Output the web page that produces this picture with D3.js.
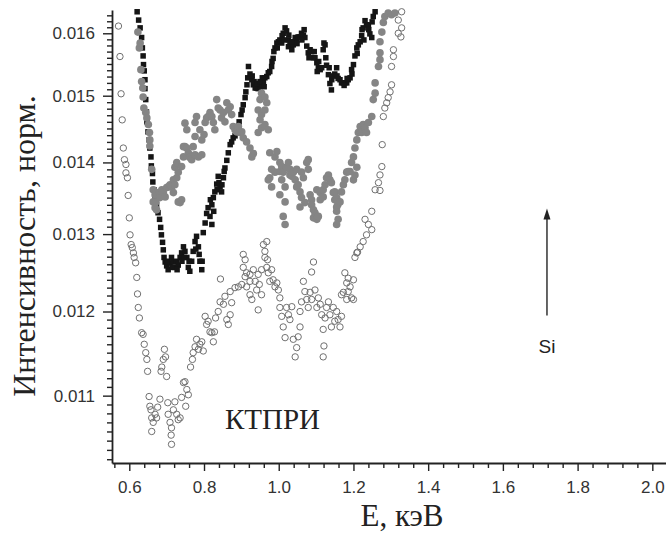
<!DOCTYPE html>
<html><head><meta charset="utf-8">
<script src="https://cdn.jsdelivr.net/npm/d3@7"></script>
<style>html,body{margin:0;padding:0;background:#fff;} svg{display:block;}</style>
</head><body>
<svg id="chart" width="666" height="533"></svg>
<script>
// Tick values
const energyTicks = [0.6, 0.8, 1.0, 1.2, 1.4, 1.6, 1.8, 2.0];
const intensityTicks = [0.011, 0.012, 0.013, 0.014, 0.015, 0.016];

// Axis texts and annotations
const xTitle = "E, кэВ";
const yTitle = "Интенсивность, норм.";
const sampleLabel = "КТПРИ";
const lineLabel = "Si";
const lineEnergy = 1.718;
const lineArrow = [0.01195, 0.01335];   // arrow base and tip, intensity units
const lineLabelLevel = 0.01158;
const sampleLabelPos = [0.856, 0.01063];

// Spectrum 1: filled black squares [E, I]
const squares = [
[0.621,0.01636],[0.625,0.01622],[0.629,0.01609],[0.633,0.01593],[0.635,0.01576],[0.637,0.01563],[0.638,0.01549],[0.640,0.01539],
[0.642,0.01525],[0.642,0.01511],[0.644,0.01494],[0.646,0.01475],[0.647,0.0146],[0.650,0.01445],[0.653,0.01433],[0.655,0.01421],
[0.658,0.01408],[0.659,0.01395],[0.662,0.01384],[0.663,0.01372],[0.666,0.01361],[0.669,0.01351],[0.673,0.0134],[0.677,0.01329],
[0.681,0.0132],[0.684,0.01309],[0.686,0.01299],[0.689,0.01289],[0.691,0.01279],[0.693,0.01269],[0.696,0.01263],[0.700,0.01258],
[0.704,0.01253],[0.709,0.01262],[0.713,0.01269],[0.718,0.01263],[0.722,0.01256],[0.727,0.01264],[0.731,0.01259],[0.736,0.01269],
[0.740,0.01275],[0.745,0.01283],[0.749,0.01277],[0.754,0.01269],[0.758,0.01256],[0.762,0.01251],[0.767,0.01264],[0.771,0.01277],
[0.776,0.0129],[0.780,0.01297],[0.785,0.01283],[0.789,0.01264],[0.794,0.01253],[0.798,0.01302],[0.803,0.01315],[0.807,0.01328],
[0.811,0.01336],[0.816,0.01324],[0.817,0.01347],[0.821,0.01313],[0.825,0.0135],[0.829,0.01358],[0.834,0.01369],[0.838,0.0138],
[0.843,0.01365],[0.847,0.01358],[0.852,0.01378],[0.856,0.01392],[0.861,0.01403],[0.865,0.01414],[0.870,0.01426],[0.874,0.0143],
[0.878,0.01436],[0.883,0.01439],[0.887,0.01445],[0.892,0.01453],[0.894,0.0146],[0.899,0.01471],[0.902,0.01478],[0.905,0.01486],
[0.910,0.01497],[0.912,0.01506],[0.915,0.01517],[0.917,0.01528],[0.919,0.01546],[0.923,0.01534],[0.928,0.01525],[0.932,0.01517],
[0.937,0.01512],[0.941,0.01512],[0.945,0.01511],[0.950,0.01514],[0.954,0.01517],[0.959,0.01522],[0.963,0.01528],[0.968,0.0153],
[0.972,0.01536],[0.976,0.01538],[0.981,0.01546],[0.985,0.01559],[0.990,0.01576],[0.995,0.01584],[0.999,0.01586],[1.003,0.01589],
[1.008,0.01584],[1.012,0.016],[1.017,0.01609],[1.021,0.01604],[1.026,0.01589],[1.026,0.01578],[1.030,0.01583],[1.035,0.01573],
[1.039,0.01581],[1.044,0.01593],[1.048,0.01589],[1.052,0.01594],[1.057,0.01594],[1.061,0.016],[1.066,0.01597],[1.070,0.01593],
[1.075,0.01579],[1.079,0.01568],[1.084,0.01573],[1.088,0.0157],[1.093,0.0156],[1.097,0.0156],[1.102,0.01552],[1.106,0.01544],
[1.111,0.01541],[1.115,0.01544],[1.119,0.01573],[1.121,0.01584],[1.124,0.01581],[1.126,0.0156],[1.128,0.01548],[1.133,0.01533],
[1.137,0.01519],[1.141,0.01509],[1.146,0.01531],[1.150,0.01534],[1.155,0.01544],[1.159,0.01527],[1.164,0.01525],[1.168,0.0152],
[1.173,0.0152],[1.177,0.0152],[1.182,0.0152],[1.186,0.01525],[1.191,0.01528],[1.195,0.01541],[1.200,0.01549],[1.204,0.01563],
[1.209,0.01576],[1.213,0.01581],[1.218,0.01586],[1.222,0.01596],[1.226,0.01609],[1.231,0.01621],[1.235,0.01614],[1.240,0.01614],
[1.244,0.01599],[1.249,0.01593],[1.253,0.01628],[1.258,0.01636],
[0.701,0.01264],[0.714,0.01256],[0.728,0.01253],[0.741,0.01264],[0.747,0.01269],[0.760,0.01264],[0.778,0.0128],[0.787,0.01273],
[0.795,0.01264],[0.821,0.0134],[0.826,0.01331],[0.835,0.01361],[0.840,0.01371],[0.848,0.01368],[0.854,0.01387],
[0.929,0.01531],[0.934,0.01522],[0.942,0.01519],[0.950,0.01522],[0.956,0.01528],[0.961,0.01514],[0.982,0.01554],[0.987,0.0157],
[0.996,0.01576],[1.009,0.01596],[1.014,0.01589],[1.027,0.01597],[1.036,0.01586],[1.049,0.01583],[1.062,0.01589],[1.068,0.01606],
[1.081,0.0156],[1.095,0.0157],[1.103,0.01538],[1.107,0.01554],[1.135,0.01544],[1.142,0.01525],[1.156,0.01531],[1.175,0.01516],
[1.183,0.01527],[1.196,0.01534],[1.210,0.01567],[1.223,0.01606],[1.228,0.01589],[1.241,0.01606],[1.250,0.01619]
];

// Spectrum 2: filled grey circles [E, I]
const dots = [
[0.623,0.01602],[0.627,0.01576],[0.629,0.01584],[0.631,0.01541],[0.633,0.01522],[0.636,0.01512],[0.637,0.01498],[0.639,0.01481],
[0.644,0.01474],[0.647,0.01466],[0.651,0.01456],[0.654,0.01444],[0.655,0.01433],[0.655,0.01424],[0.660,0.0139],[0.664,0.01361],
[0.664,0.01344],[0.669,0.01354],[0.669,0.01336],[0.671,0.01344],[0.673,0.01333],[0.673,0.01357],[0.680,0.01357],[0.682,0.0135],
[0.687,0.01361],[0.691,0.01357],[0.696,0.01351],[0.700,0.01364],[0.704,0.01365],[0.709,0.01368],[0.713,0.01365],[0.718,0.01357],
[0.718,0.01375],[0.722,0.01368],[0.722,0.01393],[0.727,0.014],[0.727,0.01378],[0.731,0.01386],[0.731,0.01344],[0.736,0.01343],
[0.740,0.01347],[0.740,0.01394],[0.745,0.01408],[0.745,0.01423],[0.749,0.01458],[0.754,0.01448],[0.749,0.01423],[0.754,0.01421],
[0.758,0.01414],[0.762,0.01407],[0.767,0.01404],[0.771,0.01423],[0.776,0.01438],[0.776,0.01411],[0.776,0.01459],[0.780,0.01468],
[0.785,0.01408],[0.789,0.01448],[0.794,0.01433],[0.794,0.01411],[0.800,0.01441],[0.803,0.01459],[0.807,0.01466],[0.811,0.01468],
[0.816,0.01474],[0.821,0.01468],[0.825,0.01459],[0.829,0.01448],[0.834,0.01494],[0.838,0.01481],[0.843,0.01478],[0.847,0.01466],
[0.852,0.01474],[0.856,0.0146],[0.861,0.01489],[0.865,0.01478],[0.870,0.01483],[0.874,0.01471],[0.878,0.01453],[0.883,0.01448],
[0.887,0.01445],[0.892,0.01453],[0.896,0.01444],[0.901,0.01445],[0.905,0.01436],[0.914,0.0143],[0.923,0.01421],[0.932,0.01413],
[0.928,0.01408],[0.945,0.01478],[0.945,0.01444],[0.950,0.01494],[0.950,0.01463],[0.954,0.01504],[0.954,0.01471],[0.954,0.01451],
[0.963,0.01498],[0.963,0.01478],[0.963,0.01456],[0.968,0.01489],[0.972,0.01448],[0.972,0.01375],[0.976,0.01414],[0.976,0.01378],
[0.981,0.0139],[0.981,0.01365],[0.990,0.01408],[0.990,0.01386],[0.995,0.01416],[1.003,0.014],[1.003,0.01387],[1.003,0.01354],
[1.008,0.01394],[1.008,0.01375],[1.012,0.01386],[1.012,0.01324],[1.017,0.01365],[1.017,0.01344],[1.017,0.01313],[1.021,0.01393],
[1.026,0.014],[1.030,0.0139],[1.030,0.01382],[1.035,0.0138],[1.039,0.01386],[1.044,0.01375],[1.048,0.0139],[1.048,0.01365],
[1.052,0.01368],[1.057,0.01358],[1.057,0.01337],[1.061,0.01386],[1.061,0.0135],[1.066,0.01378],[1.070,0.01343],[1.075,0.014],
[1.079,0.01404],[1.079,0.0139],[1.084,0.01354],[1.088,0.01347],[1.088,0.0134],[1.093,0.01333],[1.093,0.01322],[1.097,0.01329],
[1.102,0.01361],[1.102,0.0132],[1.106,0.01324],[1.111,0.01357],[1.111,0.01347],[1.119,0.01361],[1.119,0.01351],[1.124,0.01368],
[1.128,0.01378],[1.133,0.01382],[1.137,0.01375],[1.141,0.01371],[1.146,0.01357],[1.150,0.01358],[1.150,0.01347],[1.155,0.0135],
[1.155,0.01337],[1.155,0.01331],[1.158,0.0134],[1.159,0.0132],[1.155,0.01313],[1.164,0.01344],[1.168,0.01358],[1.173,0.01368],
[1.177,0.01375],[1.182,0.01386],[1.186,0.01387],[1.191,0.01387],[1.195,0.014],[1.200,0.01408],[1.200,0.01375],[1.204,0.01421],
[1.204,0.01382],[1.209,0.01433],[1.209,0.01393],[1.213,0.01444],[1.218,0.01453],[1.222,0.01444],[1.226,0.01456],[1.231,0.01451],
[1.235,0.01444],[1.240,0.01459],[1.249,0.01468],[1.253,0.01494],[1.258,0.01504],[1.258,0.0152],[1.267,0.01546],[1.271,0.01557],
[1.271,0.01568],[1.271,0.01586],[1.276,0.01602],[1.280,0.01618],[1.284,0.01628],[1.293,0.01634],[1.302,0.01631],[1.311,0.01634]
];

// Spectrum 3: open circles [E, I]
const rings = [
[0.571,0.01612],[0.575,0.01562],[0.578,0.01503],[0.581,0.01463],[0.584,0.01421],[0.587,0.01404],[0.591,0.01397],[0.591,0.01385],
[0.595,0.01378],[0.597,0.01353],[0.600,0.01322],[0.602,0.01299],[0.605,0.01286],[0.608,0.01282],[0.611,0.01275],[0.613,0.01269],
[0.617,0.01262],[0.620,0.01243],[0.622,0.01222],[0.624,0.01205],[0.627,0.01192],[0.633,0.01174],[0.637,0.01172],[0.640,0.0116],
[0.644,0.0115],[0.647,0.01142],[0.649,0.01128],[0.653,0.01099],[0.655,0.01088],[0.658,0.01084],[0.660,0.01075],[0.664,0.0107],
[0.660,0.0106],[0.669,0.01079],[0.673,0.01075],[0.676,0.01087],[0.682,0.01096],[0.685,0.01128],[0.687,0.01133],[0.691,0.01142],
[0.694,0.01154],[0.697,0.01145],[0.700,0.01122],[0.703,0.01092],[0.704,0.01079],[0.709,0.0107],[0.713,0.01064],[0.712,0.01056],
[0.713,0.01046],[0.718,0.01084],[0.722,0.01093],[0.727,0.01079],[0.731,0.01073],[0.736,0.01075],[0.740,0.01098],[0.745,0.01115],
[0.749,0.01116],[0.754,0.01107],[0.758,0.01101],[0.751,0.01088],[0.764,0.01133],[0.769,0.01142],[0.771,0.0115],[0.776,0.01157],
[0.780,0.01166],[0.785,0.01154],[0.789,0.0116],[0.794,0.01163],[0.798,0.01152],[0.803,0.01194],[0.807,0.01184],[0.811,0.01188],
[0.816,0.01175],[0.821,0.01174],[0.825,0.01163],[0.828,0.01175],[0.831,0.01192],[0.838,0.012],[0.843,0.01212],[0.844,0.01241],
[0.852,0.01209],[0.856,0.01219],[0.861,0.0119],[0.865,0.01184],[0.870,0.01196],[0.870,0.01225],[0.874,0.01211],[0.883,0.0123],
[0.892,0.01231],[0.901,0.01234],[0.905,0.01273],[0.910,0.01266],[0.905,0.01256],[0.914,0.01249],[0.910,0.01244],[0.914,0.01231],
[0.923,0.01247],[0.923,0.01238],[0.923,0.01221],[0.928,0.01215],[0.932,0.01253],[0.937,0.01238],[0.941,0.01227],[0.945,0.01247],
[0.945,0.01202],[0.948,0.01234],[0.954,0.01253],[0.954,0.01221],[0.959,0.01286],[0.963,0.01277],[0.963,0.01269],[0.968,0.01256],
[0.968,0.0129],[0.970,0.01266],[0.972,0.01249],[0.976,0.01238],[0.981,0.01253],[0.985,0.0124],[0.990,0.01231],[0.995,0.01236],
[0.999,0.01227],[1.003,0.01217],[1.003,0.01205],[1.008,0.01194],[1.012,0.01181],[1.017,0.01168],[1.021,0.01205],[1.026,0.01196],
[1.030,0.0119],[1.035,0.01206],[1.039,0.01166],[1.044,0.01145],[1.048,0.01156],[1.052,0.01169],[1.057,0.01181],[1.057,0.012],
[1.061,0.01212],[1.066,0.01238],[1.070,0.01225],[1.075,0.01215],[1.079,0.01205],[1.084,0.01224],[1.088,0.01215],[1.088,0.0125],
[1.093,0.01263],[1.097,0.01227],[1.102,0.01205],[1.106,0.01217],[1.111,0.01209],[1.115,0.01196],[1.119,0.01178],[1.121,0.01158],
[1.119,0.01145],[1.124,0.01192],[1.128,0.01205],[1.133,0.01212],[1.137,0.01196],[1.141,0.01181],[1.146,0.01205],[1.150,0.01188],
[1.155,0.012],[1.159,0.0119],[1.164,0.01181],[1.168,0.01194],[1.173,0.01224],[1.168,0.01221],[1.177,0.01249],[1.182,0.01236],
[1.182,0.01215],[1.186,0.01242],[1.186,0.01225],[1.191,0.01231],[1.195,0.01217],[1.200,0.0124],[1.200,0.01215],[1.204,0.01269],
[1.209,0.01275],[1.211,0.01276],[1.218,0.01283],[1.226,0.0129],[1.235,0.01299],[1.231,0.0132],[1.240,0.01313],[1.249,0.01306],
[1.249,0.01331],[1.258,0.01361],[1.267,0.01371],[1.271,0.01382],[1.271,0.0136],[1.276,0.01394],[1.277,0.01426],[1.280,0.01468],
[1.284,0.01481],[1.289,0.01489],[1.293,0.01497],[1.298,0.01506],[1.302,0.01517],[1.302,0.01546],[1.307,0.01562],[1.307,0.01573],
[1.320,0.016],[1.327,0.01594],[1.329,0.01609],[1.320,0.01622],[1.329,0.01636]
];

const svg = d3.select("#chart");

// Scales: linear energy axis, logarithmic intensity axis
const x = d3.scaleLinear().domain([0.5537, 2.05]).range([112, 671]);
const y = d3.scaleLog().domain([0.01026, 0.01639]).range([463, 10]);

const axisColor = "#222";
const tickFont = "'Liberation Sans', Arial, sans-serif";
const serifFont = "'Liberation Serif', 'Times New Roman', serif";

// Minor tick positions
const xMinor = d3.range(0.56, 2.05, 0.04).map(v => +v.toFixed(2))
  .filter(v => !energyTicks.some(t => Math.abs(t - v) < 1e-6));
const yMinor = d3.range(103, 164).map(v => v / 10000)
  .filter(v => !intensityTicks.some(t => Math.abs(t - v) < 1e-7));

function styleAxis(g) {
  g.selectAll("path.domain").attr("stroke", axisColor).attr("stroke-width", 1.8);
  g.selectAll(".tick line").attr("stroke", axisColor).attr("stroke-width", 1.4);
  g.selectAll(".tick text").attr("fill", "#333")
    .style("font-family", tickFont).style("font-size", "17px");
}

// X axis
const gx = svg.append("g").attr("transform", "translate(0,463)");
gx.call(d3.axisBottom(x).tickValues(xMinor).tickSize(5).tickSizeOuter(0).tickFormat(""))
  .call(styleAxis);
const gx2 = svg.append("g").attr("transform", "translate(0,463)");
gx2.call(d3.axisBottom(x).tickValues(energyTicks).tickSize(8).tickSizeOuter(0)
    .tickPadding(10).tickFormat(d3.format(".1f")))
  .call(styleAxis);
gx2.select("path.domain").remove();

// Y axis
const gy = svg.append("g").attr("transform", "translate(112,0)");
gy.call(d3.axisLeft(y).tickValues(yMinor).tickSize(5).tickSizeOuter(0).tickFormat(""))
  .call(styleAxis);
const gy2 = svg.append("g").attr("transform", "translate(112,0)");
gy2.call(d3.axisLeft(y).tickValues(intensityTicks).tickSize(9).tickSizeOuter(0)
    .tickPadding(8).tickFormat(d3.format(".3f")))
  .call(styleAxis);
gy2.select("path.domain").remove();

// Axis titles
svg.append("text")
  .attr("transform", "translate(35,246) rotate(-90)")
  .attr("text-anchor", "middle")
  .style("font-family", serifFont).style("font-size", "32px").attr("fill", "#222")
  .text(yTitle);
svg.append("text")
  .attr("x", 402).attr("y", 526)
  .attr("text-anchor", "middle")
  .style("font-family", serifFont).style("font-size", "31px").attr("fill", "#222")
  .text(xTitle);

// Data marks
const plot = svg.append("g");
const sq = 5.5;
plot.selectAll("rect.sq").data(squares).join("rect")
  .attr("class", "sq")
  .attr("x", d => x(d[0]) - sq / 2).attr("y", d => y(d[1]) - sq / 2)
  .attr("width", sq).attr("height", sq)
  .attr("fill", "#151515");
plot.selectAll("circle.dot").data(dots).join("circle")
  .attr("class", "dot")
  .attr("cx", d => x(d[0])).attr("cy", d => y(d[1])).attr("r", 3.8)
  .attr("fill", "#858585");
plot.selectAll("circle.ring").data(rings).join("circle")
  .attr("class", "ring")
  .attr("cx", d => x(d[0])).attr("cy", d => y(d[1])).attr("r", 3.2)
  .attr("fill", "none").attr("stroke", "#707070").attr("stroke-width", 1);

// Sample label
svg.append("text")
  .attr("x", x(sampleLabelPos[0])).attr("y", y(sampleLabelPos[1]))
  .style("font-family", serifFont).style("font-size", "29px").attr("fill", "#222")
  .text(sampleLabel);

// Si line marker: arrow and label
const ax = x(lineEnergy);
const yBase = y(lineArrow[0]), yTip = y(lineArrow[1]);
svg.append("line")
  .attr("x1", ax).attr("x2", ax).attr("y1", yBase).attr("y2", yTip + 8)
  .attr("stroke", "#333").attr("stroke-width", 1.5);
svg.append("path")
  .attr("d", `M${ax},${yTip} L${ax - 3.5},${yTip + 11} L${ax + 3.5},${yTip + 11} Z`)
  .attr("fill", "#222");
svg.append("text")
  .attr("x", ax).attr("y", y(lineLabelLevel)).attr("dy", "0.35em")
  .attr("text-anchor", "middle")
  .style("font-family", tickFont).style("font-size", "19px").attr("fill", "#222")
  .text(lineLabel);
</script>
</body></html>
